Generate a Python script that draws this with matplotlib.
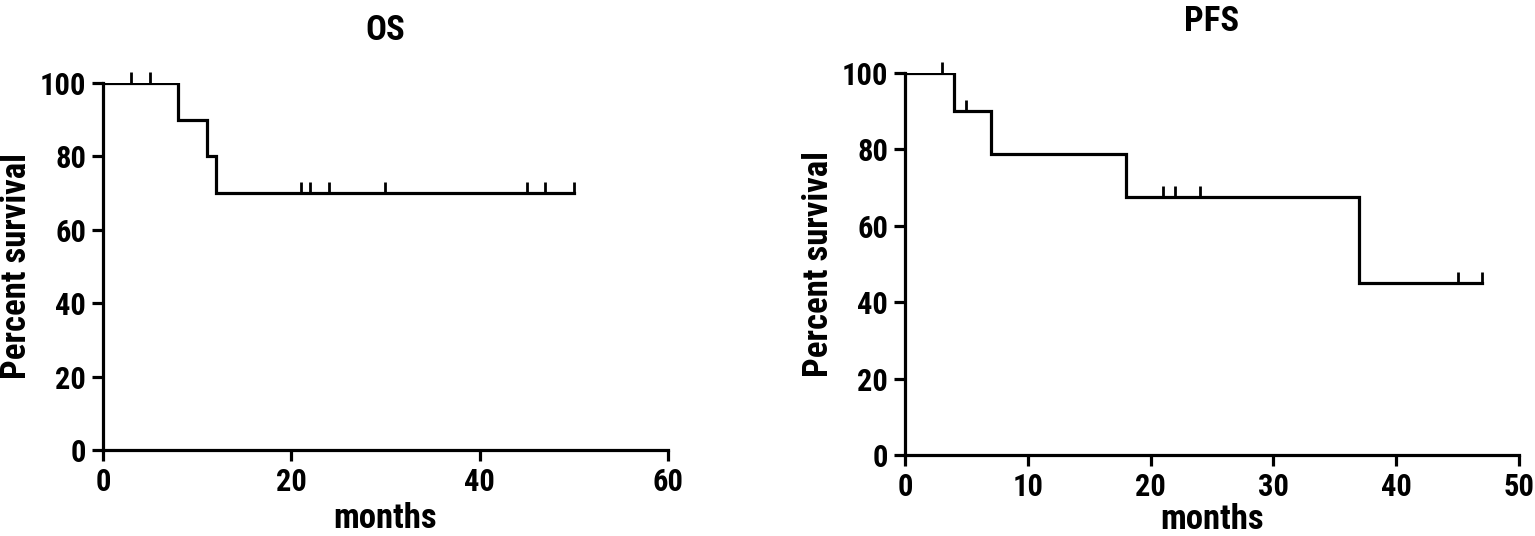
import matplotlib.pyplot as plt

plt.rcParams['font.family'] = ['Roboto Condensed', 'Liberation Sans', 'DejaVu Sans']
plt.rcParams['font.weight'] = 'bold'

# OS: step curve (months, percent) and censored marks
os_t = [0, 8, 11, 12, 50]
os_s = [100, 90, 80, 70, 70]
os_cens_t = [3, 5, 21, 22, 24, 30, 45, 47, 50]
os_cens_s = [100, 100, 70, 70, 70, 70, 70, 70, 70]

# PFS
pfs_t = [0, 4, 7, 18, 37, 47]
pfs_s = [100, 90, 78.75, 67.5, 45, 45]
pfs_cens_t = [3, 5, 21, 22, 24, 45, 47]
pfs_cens_s = [100, 90, 67.5, 67.5, 67.5, 45, 45]

os_xticks = [0, 20, 40, 60]
pfs_xticks = [0, 10, 20, 30, 40, 50]
yticks = [0, 20, 40, 60, 80, 100]

fig = plt.figure(figsize=(15.35, 5.36), dpi=100)
ax1 = fig.add_axes([0.0671, 0.1604, 0.368, 0.685])
ax2 = fig.add_axes([0.5896, 0.1511, 0.400, 0.7127])


def km_panel(ax, t, s, ct, cs, xmax, xticks, title, title_pad, xl_pad):
    ax.step(t, s, where='post', color='black', lw=2.3, solid_joinstyle='miter')
    ax.plot(ct, [v + 1.3 for v in cs], linestyle='none', marker='|', clip_on=False,
            markersize=9, markeredgewidth=2.0, color='black')
    ax.set_xlim(0, xmax)
    ax.set_ylim(0, 100)
    ax.set_xticks(xticks)
    ax.set_yticks(yticks)
    for side in ['top', 'right']:
        ax.spines[side].set_visible(False)
    for side in ['left', 'bottom']:
        ax.spines[side].set_linewidth(2.3)
    ax.tick_params(direction='out', length=8, width=2.3, labelsize=22, pad=4)
    ax.set_xlabel('months', fontsize=25, fontweight='bold', labelpad=xl_pad)
    ax.set_ylabel('Percent survival', fontsize=25, fontweight='bold', labelpad=5)
    ax.set_title(title, fontsize=25, fontweight='bold', pad=title_pad)
    for lab in ax.get_xticklabels() + ax.get_yticklabels():
        lab.set_fontweight('bold')


km_panel(ax1, os_t, os_s, os_cens_t, os_cens_s, 60, os_xticks, 'OS', 31, 4)
km_panel(ax2, pfs_t, pfs_s, pfs_cens_t, pfs_cens_s, 50, pfs_xticks, 'PFS', 30, 1)

fig.savefig('out.png', dpi=100)
